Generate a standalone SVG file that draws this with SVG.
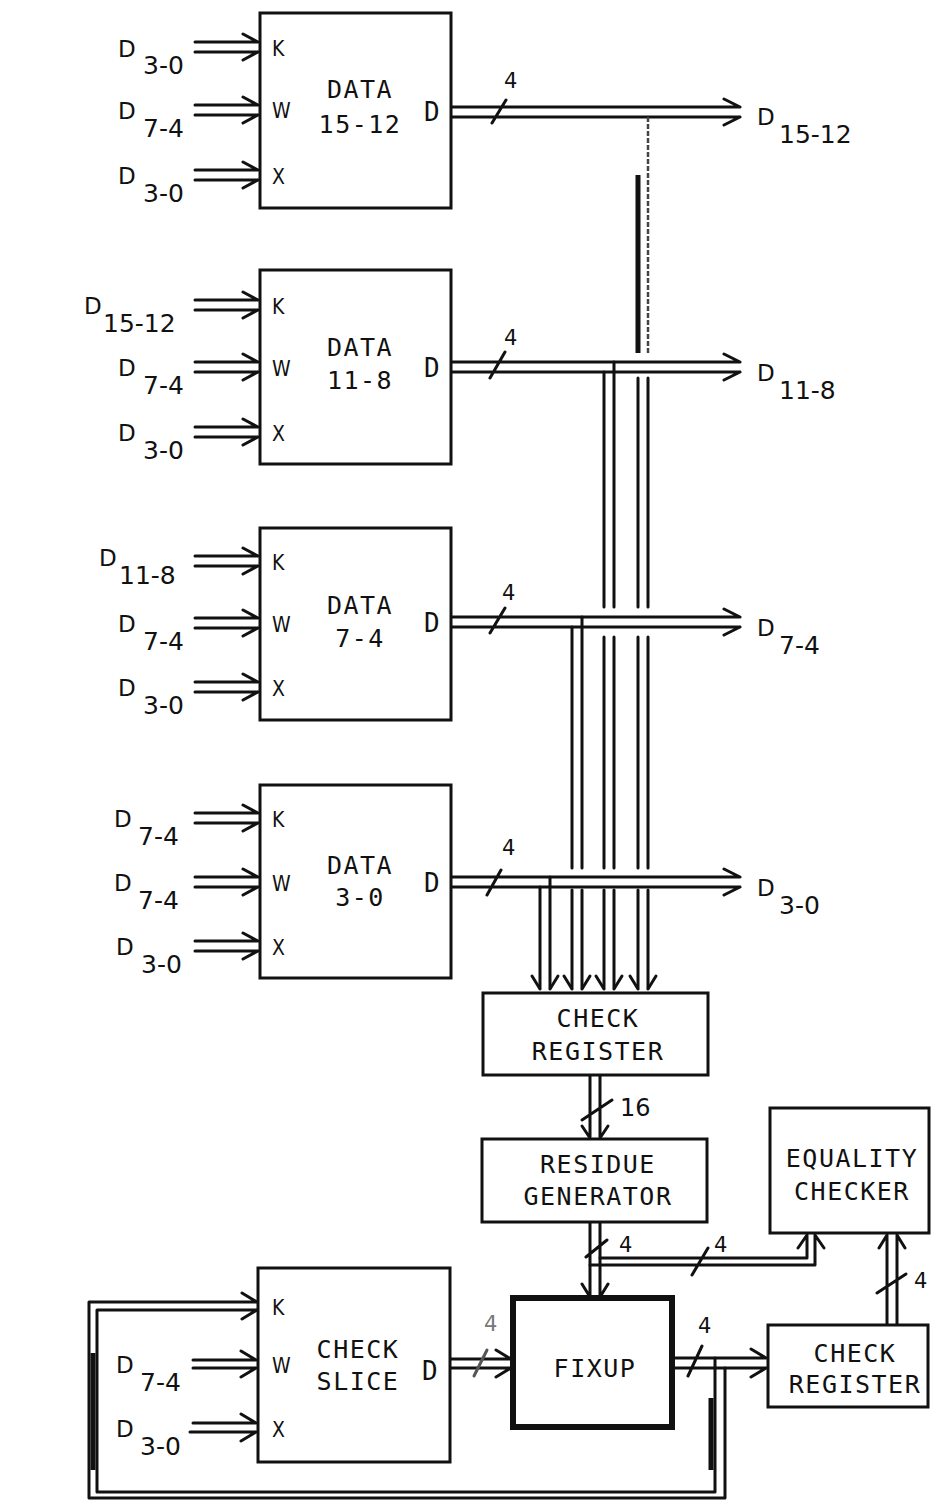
<svg xmlns="http://www.w3.org/2000/svg" width="931" height="1501" viewBox="0 0 931 1501">
<style>
.ln{stroke:#111;stroke-width:3;fill:none;stroke-linecap:round;stroke-linejoin:round}
.thk{stroke:#111;stroke-width:5;fill:none}
.dsh{stroke:#444;stroke-width:2.5;fill:none;stroke-dasharray:5 2}
.box{fill:#fff;stroke:#111;stroke-width:3}
.fx{fill:#fff;stroke:#111;stroke-width:6}
.bt{font-family:"DejaVu Sans Mono",monospace;font-size:25px;letter-spacing:1.5px;fill:#111;text-anchor:middle}
.pt{font-family:"DejaVu Sans Condensed","DejaVu Sans",sans-serif;font-size:21px;fill:#111}
.dl{font-family:"DejaVu Sans Mono",monospace;font-size:26px;fill:#111}
.lab{font-family:"DejaVu Sans",sans-serif;fill:#111}
.d{font-size:23px}
.s{font-size:25px}
.n{font-family:"DejaVu Sans",sans-serif;font-size:21px;fill:#111}
</style>
<rect width="931" height="1501" fill="#fff"/>

<g id="connectors">
<!-- block input double arrows -->
<path class="ln" d="M195 42H258M195 52H258M243 34L258 42M243 60L258 52"/>
<path class="ln" d="M195 105H258M195 115H258M243 97L258 105M243 123L258 115"/>
<path class="ln" d="M195 170H258M195 180H258M243 162L258 170M243 188L258 180"/>
<path class="ln" d="M195 300H258M195 310H258M243 292L258 300M243 318L258 310"/>
<path class="ln" d="M195 362H258M195 372H258M243 354L258 362M243 380L258 372"/>
<path class="ln" d="M195 427H258M195 437H258M243 419L258 427M243 445L258 437"/>
<path class="ln" d="M195 556H258M195 566H258M243 548L258 556M243 574L258 566"/>
<path class="ln" d="M195 618H258M195 628H258M243 610L258 618M243 636L258 628"/>
<path class="ln" d="M195 682H258M195 692H258M243 674L258 682M243 700L258 692"/>
<path class="ln" d="M195 813H258M195 823H258M243 805L258 813M243 831L258 823"/>
<path class="ln" d="M195 877H258M195 887H258M243 869L258 877M243 895L258 887"/>
<path class="ln" d="M195 941H258M195 951H258M243 933L258 941M243 959L258 951"/>
<path class="ln" d="M193 1360H256M193 1368H256M241 1351L256 1360M241 1377L256 1368"/>
<path class="ln" d="M193 1423H256M190 1432H256M241 1414L256 1423M241 1441L256 1432"/>

<!-- block output buses -->
<path class="ln" d="M451 107H740M451 117H740M724 99L740 107M724 125L740 117M492 123L506 100"/>
<path class="ln" d="M451 362H740M451 372H740M724 354L740 362M724 380L740 372M490 378L505 352"/>
<path class="ln" d="M451 617H740M451 627H740M724 609L740 617M724 635L740 627M490 633L505 608"/>
<path class="ln" d="M451 877H740M451 887H740M724 869L740 877M724 895L740 887M487 895L501 870"/>

<!-- vertical taps to check register -->
<path class="dsh" d="M648 117V353"/>
<path class="ln" d="M648 378V607M648 637V868M648 890V988"/>
<path class="thk" d="M638 175V353"/>
<path class="ln" d="M638 378V607M638 637V868M638 890V988"/>
<path class="ln" d="M604 372V607M604 637V868M604 890V988M614 362V607M614 637V868M614 890V988"/>
<path class="ln" d="M572 627V868M572 890V988M582 617V868M582 890V988"/>
<path class="ln" d="M540 887V988M550 877V988"/>
<path class="ln" d="M532 976L540 989M558 976L550 989M564 976L572 989M590 976L582 989M596 976L604 989M622 976L614 989M630 976L638 989M656 976L648 989"/>

<!-- check register to residue generator -->
<path class="ln" d="M590 1075V1137M600 1075V1137M582 1126L590 1138M608 1126L600 1138M582 1120L612 1100"/>
<!-- residue generator to fixup -->
<path class="ln" d="M590 1222V1296M600 1222V1296M582 1284L590 1297M608 1284L600 1297M586 1257L607 1240"/>
<!-- residue to equality checker -->
<path class="ln" d="M600 1258H807V1236M590 1265H815V1236M798 1248L807 1235M824 1248L815 1235M692 1275L708 1248"/>
<!-- check register 2 to equality checker -->
<path class="ln" d="M887 1325V1236M897 1325V1236M879 1248L887 1235M905 1248L897 1235M877 1293L906 1274"/>
<!-- check slice to fixup -->
<path class="ln" d="M450 1359H511M450 1368H511M496 1350L511 1359M496 1377L511 1368"/>
<path class="ln" style="stroke:#555" d="M474 1376L487 1350"/>
<!-- fixup to check register 2 -->
<path class="ln" d="M673 1358H766M673 1368H766M751 1349L766 1358M751 1377L766 1368M688 1376L702 1346"/>
<!-- feedback to K of check slice -->
<path class="ln" d="M715 1358V1492H97V1310H257M725 1368V1498H89V1302H257M242 1293L257 1302M242 1319L257 1310"/>
<path class="thk" d="M93 1353V1470M711 1398V1470"/>

<!-- bus width labels -->
<text class="n" x="504" y="88">4</text>
<text class="n" x="504" y="345">4</text>
<text class="n" x="502" y="600">4</text>
<text class="n" x="502" y="855">4</text>
<text class="n" x="620" y="1116" style="font-size:24px">16</text>
<text class="n" x="619" y="1252">4</text>
<text class="n" x="714" y="1252">4</text>
<text class="n" x="914" y="1288">4</text>
<text class="n" x="484" y="1331" style="fill:#777">4</text>
<text class="n" x="698" y="1333">4</text>

<!-- external signal labels -->
<text class="lab"><tspan class="d" x="118" y="57">D</tspan><tspan class="s" x="143" y="74">3-0</tspan></text>
<text class="lab"><tspan class="d" x="118" y="119">D</tspan><tspan class="s" x="143" y="137">7-4</tspan></text>
<text class="lab"><tspan class="d" x="118" y="184">D</tspan><tspan class="s" x="143" y="202">3-0</tspan></text>
<text class="lab"><tspan class="d" x="84" y="314">D</tspan><tspan class="s" x="103" y="332">15-12</tspan></text>
<text class="lab"><tspan class="d" x="118" y="376">D</tspan><tspan class="s" x="143" y="394">7-4</tspan></text>
<text class="lab"><tspan class="d" x="118" y="441">D</tspan><tspan class="s" x="143" y="459">3-0</tspan></text>
<text class="lab"><tspan class="d" x="99" y="566">D</tspan><tspan class="s" x="119" y="584">11-8</tspan></text>
<text class="lab"><tspan class="d" x="118" y="632">D</tspan><tspan class="s" x="143" y="650">7-4</tspan></text>
<text class="lab"><tspan class="d" x="118" y="696">D</tspan><tspan class="s" x="143" y="714">3-0</tspan></text>
<text class="lab"><tspan class="d" x="114" y="827">D</tspan><tspan class="s" x="138" y="845">7-4</tspan></text>
<text class="lab"><tspan class="d" x="114" y="891">D</tspan><tspan class="s" x="138" y="909">7-4</tspan></text>
<text class="lab"><tspan class="d" x="116" y="955">D</tspan><tspan class="s" x="141" y="973">3-0</tspan></text>
<text class="lab"><tspan class="d" x="116" y="1373">D</tspan><tspan class="s" x="140" y="1391">7-4</tspan></text>
<text class="lab"><tspan class="d" x="116" y="1437">D</tspan><tspan class="s" x="140" y="1455">3-0</tspan></text>
<text class="lab"><tspan class="d" x="757" y="125">D</tspan><tspan class="s" x="779" y="143">15-12</tspan></text>
<text class="lab"><tspan class="d" x="757" y="381">D</tspan><tspan class="s" x="779" y="399">11-8</tspan></text>
<text class="lab"><tspan class="d" x="757" y="636">D</tspan><tspan class="s" x="779" y="654">7-4</tspan></text>
<text class="lab"><tspan class="d" x="757" y="896">D</tspan><tspan class="s" x="779" y="914">3-0</tspan></text>
</g>

<g id="data15-12">
<rect class="box" x="260" y="13" width="191" height="195"/>
<text class="pt" x="272" y="56">K</text><text class="pt" x="272" y="118">W</text><text class="pt" x="272" y="184">X</text>
<text class="bt" x="360" y="98">DATA</text><text class="bt" x="360" y="133">15-12</text>
<text class="dl" x="424" y="121">D</text>
</g>
<g id="data11-8">
<rect class="box" x="260" y="270" width="191" height="194"/>
<text class="pt" x="272" y="314">K</text><text class="pt" x="272" y="376">W</text><text class="pt" x="272" y="441">X</text>
<text class="bt" x="360" y="356">DATA</text><text class="bt" x="360" y="389">11-8</text>
<text class="dl" x="424" y="377">D</text>
</g>
<g id="data7-4">
<rect class="box" x="260" y="528" width="191" height="192"/>
<text class="pt" x="272" y="570">K</text><text class="pt" x="272" y="632">W</text><text class="pt" x="272" y="696">X</text>
<text class="bt" x="360" y="614">DATA</text><text class="bt" x="360" y="647">7-4</text>
<text class="dl" x="424" y="632">D</text>
</g>
<g id="data3-0">
<rect class="box" x="260" y="785" width="191" height="193"/>
<text class="pt" x="272" y="827">K</text><text class="pt" x="272" y="891">W</text><text class="pt" x="272" y="955">X</text>
<text class="bt" x="360" y="874">DATA</text><text class="bt" x="360" y="906">3-0</text>
<text class="dl" x="424" y="892">D</text>
</g>
<g id="check-register-1">
<rect class="box" x="483" y="993" width="225" height="82"/>
<text class="bt" x="598" y="1027">CHECK</text><text class="bt" x="598" y="1060">REGISTER</text>
</g>
<g id="residue-generator">
<rect class="box" x="482" y="1139" width="225" height="83"/>
<text class="bt" x="598" y="1173">RESIDUE</text><text class="bt" x="598" y="1205">GENERATOR</text>
</g>
<g id="equality-checker">
<rect class="box" x="770" y="1108" width="159" height="125"/>
<text class="bt" x="852" y="1167">EQUALITY</text><text class="bt" x="852" y="1200">CHECKER</text>
</g>
<g id="check-slice">
<rect class="box" x="258" y="1268" width="192" height="194"/>
<text class="pt" x="272" y="1315">K</text><text class="pt" x="272" y="1373">W</text><text class="pt" x="272" y="1437">X</text>
<text class="bt" x="358" y="1358">CHECK</text><text class="bt" x="358" y="1390">SLICE</text>
<text class="dl" x="422" y="1380">D</text>
</g>
<g id="fixup">
<rect class="fx" x="513" y="1298" width="159" height="129"/>
<text class="bt" x="595" y="1377">FIXUP</text>
</g>
<g id="check-register-2">
<rect class="box" x="768" y="1325" width="160" height="82"/>
<text class="bt" x="855" y="1362">CHECK</text><text class="bt" x="855" y="1393">REGISTER</text>
</g>
</svg>
